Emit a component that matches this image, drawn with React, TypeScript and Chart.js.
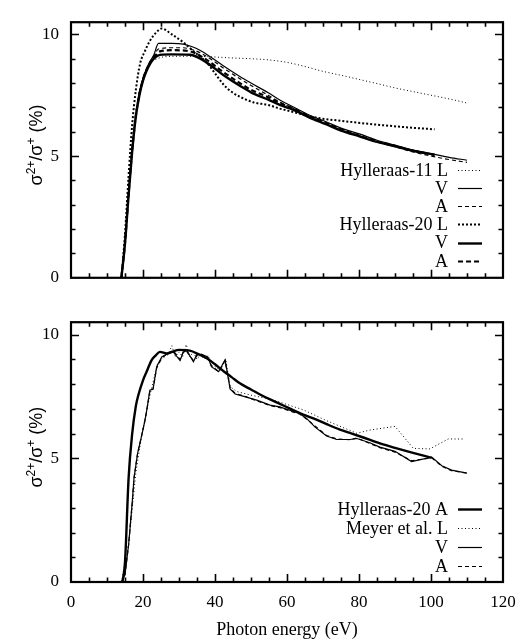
import React, { useEffect, useRef } from "react";
import { Chart, registerables } from "chart.js";
Chart.register(...registerables);

const SERIF = '"Liberation Serif", "Times New Roman", serif';
const SANS = '"Liberation Sans", Arial, sans-serif';

// ---------- axes ----------
const X_MIN = 0;
const X_MAX = 120;
const Y_MIN = 0;
const Y_MAX = 10.5;
const X_MAJOR = [0, 20, 40, 60, 80, 100, 120];
const Y_MAJOR = [0, 5, 10];
const X_LABEL = "Photon energy (eV)";

// ---------- top panel ----------
const TOP_LABELS = ["Hylleraas-11 L", "V", "A", "Hylleraas-20 L", "V", "A"];

const H11_L_X = [14, 15, 16, 17, 18, 19, 20, 21, 22, 24, 26, 30, 35, 40, 45, 50, 55, 60, 65, 70, 75, 80, 85, 90, 95, 100, 105, 110];
const H11_L_Y = [0, 1.6, 3.6, 5.4, 6.8, 7.7, 8.2, 8.55, 8.8, 9.0, 9.08, 9.1, 9.1, 9.07, 9.03, 9.0, 8.95, 8.85, 8.68, 8.48, 8.32, 8.15, 7.98, 7.8, 7.65, 7.5, 7.35, 7.18];

const H11_V_X = [14, 15, 16, 17, 18, 19, 20, 21, 22, 23, 24.3, 28, 31.2, 33.5, 35.8, 39, 42.3, 46.9, 50, 54.8, 58, 61.8, 66, 71, 75, 80.3, 85, 90, 95, 100, 105, 110];
const H11_V_Y = [0, 1.5, 3.5, 5.3, 6.7, 7.6, 8.2, 8.6, 8.9, 9.15, 9.63, 9.63, 9.6, 9.5, 9.35, 9.05, 8.71, 8.27, 8.0, 7.6, 7.3, 7.02, 6.7, 6.4, 6.15, 5.9, 5.65, 5.45, 5.25, 5.1, 4.95, 4.83];

const H11_A_X = H11_V_X;
const H11_A_Y = [0, 1.5, 3.5, 5.3, 6.7, 7.6, 8.2, 8.6, 8.85, 9.1, 9.4, 9.45, 9.45, 9.38, 9.25, 8.97, 8.62, 8.18, 7.9, 7.5, 7.22, 6.95, 6.62, 6.32, 6.07, 5.83, 5.58, 5.38, 5.17, 5.0, 4.86, 4.74];

const H20_L_X = [14, 15, 16, 17, 18, 19.2, 20.5, 21.9, 23.5, 25.2, 28, 31.2, 34.5, 37.7, 40, 42.3, 44.5, 46.9, 50.6, 54.8, 58, 61.8, 65, 69.2, 75, 80.3, 85.8, 89.5, 95, 101];
const H20_L_Y = [0, 1.8, 4.2, 6.3, 7.7, 8.8, 9.3, 9.73, 10.05, 10.24, 10.0, 9.67, 9.25, 8.84, 8.4, 7.95, 7.65, 7.44, 7.21, 7.1, 6.95, 6.81, 6.68, 6.55, 6.45, 6.36, 6.28, 6.23, 6.16, 6.1];

const H20_V_X = [14, 15, 16, 17, 18, 19, 20, 21, 22, 23, 24.7, 28, 33.1, 37.7, 42.3, 46.9, 50, 54.8, 58, 61.8, 66, 71, 75, 80.3, 85, 90, 95, 101];
const H20_V_Y = [0, 1.4, 3.4, 5.2, 6.6, 7.5, 8.1, 8.5, 8.8, 9.0, 9.16, 9.18, 9.16, 8.84, 8.33, 7.89, 7.62, 7.32, 7.1, 6.9, 6.6, 6.3, 6.05, 5.8, 5.58, 5.4, 5.22, 5.06];

const H20_A_X = H20_V_X;
const H20_A_Y = [0, 1.45, 3.45, 5.25, 6.65, 7.55, 8.15, 8.55, 8.85, 9.05, 9.3, 9.35, 9.3, 8.95, 8.45, 8.0, 7.72, 7.42, 7.18, 6.95, 6.65, 6.35, 6.1, 5.83, 5.6, 5.42, 5.22, 5.04];

// ---------- bottom panel ----------
const BOTTOM_LABELS = ["Hylleraas-20 A", "Meyer et al. L", "V", "A"];

const B_H20_A_X = [14.3, 15, 16, 17, 18, 18.7, 20, 21, 22.4, 23.5, 24.7, 26.6, 28, 30, 33, 35.5, 37.7, 40, 42.3, 44.6, 46.9, 50, 52.5, 55.3, 58, 61, 64.5, 68, 71, 74.7, 78, 81, 85.8, 90, 95, 100.2];
const B_H20_A_Y = [0, 0.8, 4.2, 6.0, 7.1, 7.55, 8.15, 8.5, 8.97, 9.15, 9.3, 9.24, 9.3, 9.38, 9.35, 9.2, 9.04, 8.8, 8.53, 8.28, 8.03, 7.78, 7.58, 7.38, 7.2, 7.0, 6.77, 6.57, 6.38, 6.16, 6.0, 5.85, 5.6, 5.42, 5.22, 5.02];

const MEYER_L_X = [14, 16, 18, 19.6, 21, 22, 23, 24, 25, 26, 27, 28, 29, 30, 31, 32, 33, 34, 35, 36, 37, 38, 40, 41.5, 43, 44.2, 46, 50, 55, 58, 64.5, 71, 79.4, 83, 90, 95.1, 99.7, 104.8, 109.4];
const MEYER_L_Y = [0, 1.5, 4.4, 5.9, 6.9, 7.6, 8.2, 8.8, 9.0, 9.1, 9.2, 9.55, 9.1, 9.3, 9.1, 9.6, 9.1, 9.3, 9.0, 9.2, 9.0, 9.15, 8.7, 8.55, 9.0, 7.9, 7.7, 7.55, 7.4, 7.27, 6.96, 6.52, 6.01, 6.14, 6.29, 5.4, 5.38, 5.78, 5.78];

const MEYER_V_X = [14, 15, 16, 17, 17.5, 18.5, 19.6, 20.5, 21, 21.9, 22.8, 23.8, 25.2, 26.5, 28.4, 30.3, 31.2, 32.2, 34, 35, 36.3, 38, 39, 41, 42.8, 44.2, 45.6, 48, 51.6, 55.3, 58, 63.6, 65.5, 67.8, 71, 73.8, 77.5, 79.4, 83, 85.8, 90, 94.6, 100.2, 103, 105.7, 110];
const MEYER_V_Y = [0, 0.3, 1.5, 3.2, 4.2, 5.2, 5.9, 6.5, 6.9, 7.75, 7.8, 8.7, 9.1, 9.2, 9.3, 8.95, 9.3, 9.35, 8.9, 9.2, 9.2, 9.1, 8.7, 8.5, 8.98, 7.8, 7.6, 7.5, 7.35, 7.15, 7.08, 6.8, 6.6, 6.26, 5.9, 5.76, 5.76, 5.8, 5.63, 5.45, 5.28, 4.87, 5.05, 4.7, 4.52, 4.4];

const MEYER_A_X = MEYER_V_X;
const MEYER_A_Y = [0, 0.3, 1.5, 3.2, 4.2, 5.2, 5.9, 6.5, 6.9, 7.7, 7.8, 8.65, 9.05, 9.2, 9.35, 9.0, 9.3, 9.3, 8.95, 9.15, 9.2, 9.05, 8.75, 8.5, 8.95, 7.85, 7.62, 7.52, 7.32, 7.13, 7.05, 6.78, 6.58, 6.3, 5.92, 5.78, 5.75, 5.82, 5.6, 5.43, 5.25, 4.9, 5.02, 4.68, 4.5, 4.4];

type Style = { width: number; dash: number[] };

const THIN_DOT: Style = { width: 1, dash: [1, 2.5] };
const THIN_SOLID: Style = { width: 1.2, dash: [] };
const THIN_DASH: Style = { width: 1.2, dash: [4, 3] };
const THICK_DOT: Style = { width: 2, dash: [2, 2] };
const THICK_SOLID: Style = { width: 2.4, dash: [] };
const THICK_DASH: Style = { width: 2.2, dash: [5, 3] };

function ds(label: string, xs: number[], ys: number[], st: Style, sharp = false) {
  return {
    label,
    data: xs.map((x, i) => ({ x, y: ys[i] })),
    borderColor: "#000",
    backgroundColor: "#000",
    borderWidth: st.width,
    borderDash: st.dash,
    pointRadius: 0,
    fill: false,
    tension: 0,
    cubicInterpolationMode: sharp ? "default" : "monotone",
  };
}

function drawYTitle(ctx: CanvasRenderingContext2D, cx: number, cy: number) {
  const big = `18px ${SANS}`;
  const small = `12px ${SANS}`;
  const parts: [string, string, number][] = [
    ["σ", big, 0],
    ["2+", small, -7],
    ["/σ", big, 0],
    ["+", small, -7],
    [" (%)", big, 0],
  ];
  ctx.save();
  ctx.translate(cx, cy);
  ctx.rotate(-Math.PI / 2);
  ctx.fillStyle = "#000";
  ctx.textBaseline = "alphabetic";
  ctx.textAlign = "left";
  let total = 0;
  for (const [t, f] of parts) {
    ctx.font = f;
    total += ctx.measureText(t).width;
  }
  let x = -total / 2;
  for (const [t, f, dy] of parts) {
    ctx.font = f;
    ctx.fillText(t, x, dy);
    x += ctx.measureText(t).width;
  }
  ctx.restore();
}

function makeFramePlugin(legendOffset: number, legendStep: number) {
  return {
    id: "frame",
    afterDraw(chart: any) {
      const { ctx, chartArea: a, scales } = chart;
      const xs = scales.x;
      const ys = scales.y;
      ctx.save();
      ctx.strokeStyle = "#000";
      ctx.lineWidth = 1.6;
      ctx.beginPath();
      for (let v = X_MIN + 5; v < X_MAX; v += 5) {
        const px = Math.round(xs.getPixelForValue(v)) + 0.5;
        const len = v % 20 === 0 ? 8 : 4.5;
        ctx.moveTo(px, a.bottom);
        ctx.lineTo(px, a.bottom - len);
        ctx.moveTo(px, a.top);
        ctx.lineTo(px, a.top + len);
      }
      for (let v = Y_MIN + 1; v <= 10; v += 1) {
        const py = Math.round(ys.getPixelForValue(v)) + 0.5;
        const len = v % 5 === 0 ? 8 : 4.5;
        ctx.moveTo(a.left, py);
        ctx.lineTo(a.left + len, py);
        ctx.moveTo(a.right, py);
        ctx.lineTo(a.right - len, py);
      }
      ctx.stroke();
      ctx.lineWidth = 2.2;
      ctx.strokeRect(a.left, a.top, a.right - a.left, a.bottom - a.top);

      // legend
      const textRight = a.right - 55;
      const s0 = a.right - 45;
      const s1 = a.right - 21;
      ctx.font = `18px ${SERIF}`;
      ctx.fillStyle = "#000";
      ctx.textAlign = "right";
      ctx.textBaseline = "middle";
      chart.data.datasets.forEach((d: any, i: number) => {
        const y = a.bottom - legendOffset + i * legendStep;
        ctx.fillText(d.label, textRight, y + 1);
        ctx.save();
        ctx.lineWidth = d.borderWidth;
        ctx.setLineDash(d.borderDash || []);
        ctx.beginPath();
        ctx.moveTo(s0, Math.round(y) + 0.5);
        ctx.lineTo(s1, Math.round(y) + 0.5);
        ctx.stroke();
        ctx.restore();
      });

      drawYTitle(ctx, 42, (a.top + a.bottom) / 2 - 5);
      ctx.restore();
    },
  };
}

function makeOptions(bottom: boolean): any {
  return {
    responsive: false,
    animation: false,
    events: [],
    layout: { padding: { left: 0, right: 27, top: bottom ? 7 : 5, bottom: 0 } },
    plugins: { legend: { display: false }, tooltip: { enabled: false } },
    scales: {
      x: {
        type: "linear",
        min: X_MIN,
        max: X_MAX,
        grid: { display: false, drawTicks: false },
        border: { display: false },
        afterBuildTicks: (s: any) => {
          s.ticks = X_MAJOR.map((v) => ({ value: v }));
        },
        afterFit: (s: any) => {
          s.height = bottom ? 61 : 20;
        },
        ticks: {
          display: bottom,
          padding: 10,
          color: "#000",
          font: { family: SERIF, size: 17 },
          maxRotation: 0,
        },
        title: {
          display: bottom,
          text: X_LABEL,
          color: "#000",
          font: { family: SERIF, size: 18 },
          padding: { top: 0, bottom: 2 },
        },
      },
      y: {
        type: "linear",
        min: Y_MIN,
        max: Y_MAX,
        grid: { display: false, drawTicks: false },
        border: { display: false },
        afterBuildTicks: (s: any) => {
          s.ticks = Y_MAJOR.map((v) => ({ value: v }));
        },
        afterFit: (s: any) => {
          s.width = 71;
        },
        ticks: {
          padding: 12,
          color: "#000",
          font: { family: SERIF, size: 17 },
        },
      },
    },
  };
}

function Panel({ bottom }: { bottom: boolean }) {
  const ref = useRef<HTMLCanvasElement>(null);
  useEffect(() => {
    if (!ref.current) return;
    const datasets = bottom
      ? [
          ds(BOTTOM_LABELS[0], B_H20_A_X, B_H20_A_Y, THICK_SOLID),
          ds(BOTTOM_LABELS[1], MEYER_L_X, MEYER_L_Y, THIN_DOT, true),
          ds(BOTTOM_LABELS[2], MEYER_V_X, MEYER_V_Y, THIN_SOLID, true),
          ds(BOTTOM_LABELS[3], MEYER_A_X, MEYER_A_Y, THIN_DASH, true),
        ]
      : [
          ds(TOP_LABELS[0], H11_L_X, H11_L_Y, THIN_DOT),
          ds(TOP_LABELS[1], H11_V_X, H11_V_Y, THIN_SOLID),
          ds(TOP_LABELS[2], H11_A_X, H11_A_Y, THIN_DASH),
          ds(TOP_LABELS[3], H20_L_X, H20_L_Y, THICK_DOT),
          ds(TOP_LABELS[4], H20_V_X, H20_V_Y, THICK_SOLID),
          ds(TOP_LABELS[5], H20_A_X, H20_A_Y, THICK_DASH),
        ];
    const chart = new Chart(ref.current, {
      type: "line",
      data: { datasets },
      options: makeOptions(bottom),
      plugins: [bottom ? makeFramePlugin(73, 19) : makeFramePlugin(108, 18.2)],
    } as any);
    return () => chart.destroy();
  }, [bottom]);
  return (
    <canvas
      ref={ref}
      width={530}
      height={bottom ? 343 : 300}
      style={{ display: "block", width: 530, height: bottom ? 343 : 300 }}
    />
  );
}

export default function App() {
  return (
    <div style={{ position: "absolute", left: 0, top: 0, width: 530, height: 643, background: "#fff" }}>
      <Panel bottom={false} />
      <Panel bottom={true} />
    </div>
  );
}
